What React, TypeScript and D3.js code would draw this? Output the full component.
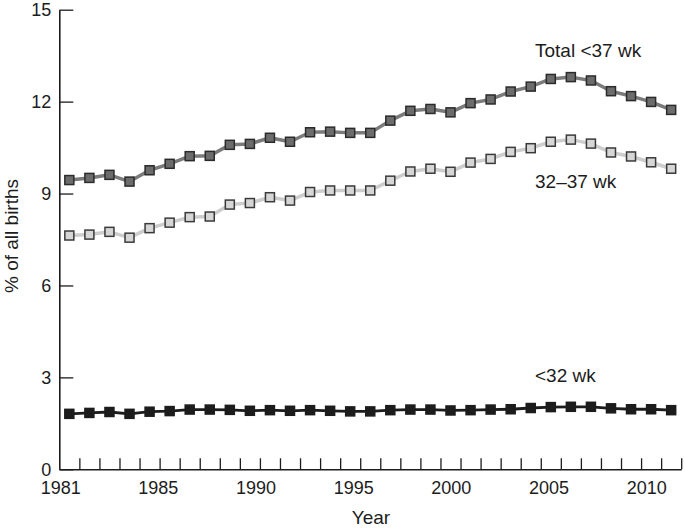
import React, { useEffect, useRef } from 'react'
import * as d3 from 'd3'

const years = d3.range(1981, 2012)
const total = [9.44, 9.51, 9.61, 9.39, 9.76, 9.97, 10.22, 10.23, 10.59, 10.62, 10.82, 10.69, 11.0, 11.02, 10.98, 10.98,
  11.38, 11.7, 11.76, 11.65, 11.95, 12.07, 12.33, 12.49, 12.74, 12.8, 12.69, 12.34, 12.18, 11.99, 11.73]
const late = [7.63, 7.66, 7.75, 7.56, 7.87, 8.05, 8.23, 8.25, 8.64, 8.69, 8.88, 8.77, 9.05, 9.1, 9.1, 9.1,
  9.42, 9.72, 9.81, 9.71, 10.01, 10.13, 10.36, 10.48, 10.69, 10.76, 10.63, 10.34, 10.21, 10.02, 9.81]
const early = [1.81, 1.84, 1.87, 1.81, 1.88, 1.9, 1.95, 1.95, 1.94, 1.91, 1.93, 1.91, 1.93, 1.91, 1.89, 1.89,
  1.93, 1.95, 1.95, 1.92, 1.93, 1.95, 1.96, 2.0, 2.03, 2.04, 2.04, 1.99, 1.96, 1.96, 1.93]
const yTicks = [0, 3, 6, 9, 12, 15]
const xLabels = ['1981', '1985', '1990', '1995', '2000', '2005', '2010']

const FONT = '"Liberation Sans", Arial, Helvetica, sans-serif'
const INK = '#1c1c1c'

const App = () => {
  const svgRef = useRef<SVGSVGElement>(null)

  useEffect(() => {
    const svg = d3.select(svgRef.current)
    svg.selectAll('*').remove()

    // year bands: each year sits between two ticks
    const x = d3.scaleLinear().domain([1981, 2012]).range([59.3, 681.2])
    const y = d3.scaleLinear().domain([0, 15]).range([469.3, 9.7])
    const labelX = d3.scalePoint<string>().domain(xLabels).range([60.7, 646.7])

    const xAxis = svg.append('g')
      .attr('transform', `translate(0,${y(0)})`)
      .call(d3.axisBottom(x).tickValues(d3.range(1982, 2013)).tickSize(-11).tickSizeOuter(0).tickFormat(() => ''))
    xAxis.select('.domain').attr('stroke', INK).attr('stroke-width', 1.6)
    xAxis.selectAll('.tick line').attr('stroke', INK).attr('stroke-width', 1.3)

    svg.append('g').selectAll('text')
      .data(xLabels)
      .enter().append('text')
        .attr('x', d => labelX(d) as number)
        .attr('y', 494)
        .attr('text-anchor', 'middle')
        .attr('font-family', FONT)
        .attr('font-size', 18)
        .attr('fill', INK)
        .text(d => d)

    const yAxis = svg.append('g')
      .attr('transform', `translate(${x(1981)},0)`)
      .call(d3.axisLeft(y).tickValues(yTicks).tickSize(-14).tickSizeOuter(0).tickPadding(8))
    yAxis.select('.domain').attr('stroke', INK).attr('stroke-width', 1.6)
    yAxis.selectAll('.tick line').attr('stroke', INK).attr('stroke-width', 1.3)
    yAxis.selectAll('.tick text')
      .attr('font-family', FONT)
      .attr('font-size', 18)
      .attr('fill', INK)

    svg.append('text')
      .attr('transform', 'translate(18,236) rotate(-90)')
      .attr('text-anchor', 'middle')
      .attr('font-family', FONT)
      .attr('font-size', 19)
      .attr('fill', INK)
      .text('% of all births')

    svg.append('text')
      .attr('x', 371)
      .attr('y', 524)
      .attr('text-anchor', 'middle')
      .attr('font-family', FONT)
      .attr('font-size', 19)
      .attr('fill', INK)
      .text('Year')

    const series = [
      { name: 'Total <37 wk', values: total, line: '#7b7b7b', width: 3.5, fill: '#6c6c6c', edge: '#2b2b2b', labelY: 57 },
      { name: '32–37 wk', values: late, line: '#cdcdcd', width: 3.5, fill: '#d6d6d6', edge: '#3a3a3a', labelY: 188 },
      { name: '<32 wk', values: early, line: '#1c1c1c', width: 2.8, fill: '#1c1c1c', edge: '#1c1c1c', labelY: 382 }
    ]

    const line = d3.line<number>()
      .x((d, i) => x(years[i] + 0.5))
      .y(d => y(d))

    series.forEach(s => {
      const g = svg.append('g')
      g.append('path')
        .attr('d', line(s.values))
        .attr('fill', 'none')
        .attr('stroke', s.line)
        .attr('stroke-width', s.width)
        .attr('stroke-linejoin', 'round')
      g.selectAll('rect')
        .data(s.values)
        .enter().append('rect')
          .attr('x', (d, i) => x(years[i] + 0.5) - 4.5)
          .attr('y', d => y(d) - 4.5)
          .attr('width', 9)
          .attr('height', 9)
          .attr('fill', s.fill)
          .attr('stroke', s.edge)
          .attr('stroke-width', 1.5)
      svg.append('text')
        .attr('x', 535)
        .attr('y', s.labelY)
        .attr('font-family', FONT)
        .attr('font-size', 19)
        .attr('fill', INK)
        .text(s.name)
    })
  }, [])

  return (
    <svg ref={svgRef} width={685} height={528}
      style={{ position: 'absolute', left: 0, top: 0, background: '#fff' }} />
  )
}

export default App
